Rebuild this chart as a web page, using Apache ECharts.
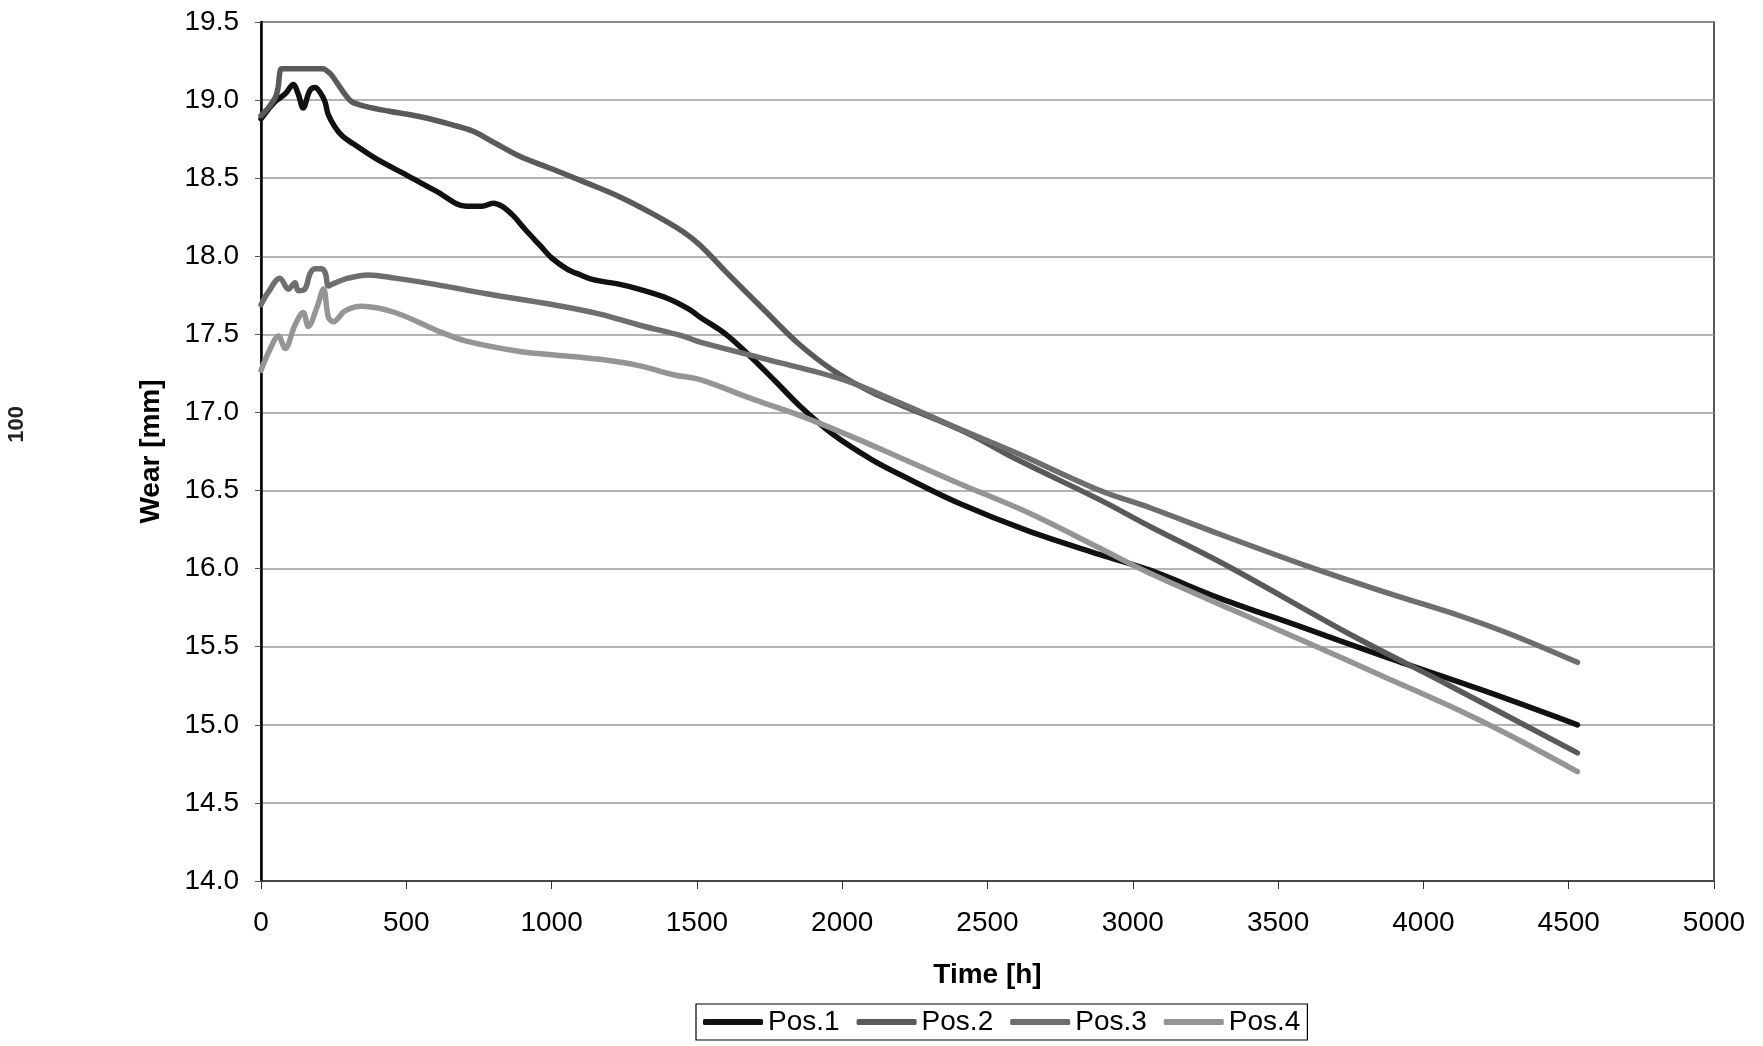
<!DOCTYPE html>
<html>
<head>
<meta charset="utf-8">
<script src="https://cdn.jsdelivr.net/npm/echarts@6/dist/echarts.min.js"></script>
<style>
html,body{margin:0;padding:0;background:#fff;}
#chart{width:1763px;height:1046px;}
</style>
</head>
<body>
<div id="chart"></div>
<script>
// ---- data ----
const seriesNames = ['Pos.1', 'Pos.2', 'Pos.3', 'Pos.4'];

const pos1Time = [0, 25, 48, 70, 88, 111, 128, 145, 168, 186, 203, 220, 231, 254, 280, 318, 400, 501, 600, 708, 760, 799, 830, 868, 910, 960, 1000, 1052, 1100, 1143, 1235, 1300, 1400, 1474, 1511, 1600, 1683, 1770, 1855, 1968, 2100, 2212, 2400, 2642, 2887, 3059, 3300, 3575, 3862, 4206, 4530];
const pos1Wear = [18.88, 18.94, 18.99, 19.02, 19.05, 19.10, 19.04, 18.95, 19.06, 19.08, 19.05, 18.99, 18.91, 18.83, 18.77, 18.72, 18.62, 18.52, 18.42, 18.32, 18.32, 18.34, 18.32, 18.26, 18.17, 18.07, 17.99, 17.92, 17.88, 17.85, 17.82, 17.79, 17.73, 17.66, 17.61, 17.50, 17.36, 17.20, 17.04, 16.86, 16.70, 16.59, 16.42, 16.24, 16.09, 15.99, 15.81, 15.63, 15.44, 15.22, 15.00];

const pos2Time = [0, 25, 50, 59, 65, 71, 140, 213, 225, 243, 280, 312, 360, 437, 557, 661, 730, 800, 890, 1000, 1120, 1235, 1350, 1450, 1511, 1600, 1740, 1850, 1968, 2100, 2199, 2428, 2600, 2887, 3059, 3323, 3747, 4091, 4530];
const pos2Wear = [18.90, 18.95, 19.02, 19.08, 19.18, 19.20, 19.20, 19.20, 19.19, 19.16, 19.06, 18.99, 18.96, 18.93, 18.89, 18.84, 18.80, 18.73, 18.64, 18.56, 18.47, 18.38, 18.27, 18.16, 18.07, 17.90, 17.64, 17.44, 17.27, 17.13, 17.05, 16.87, 16.70, 16.44, 16.27, 16.02, 15.58, 15.25, 14.82];

const pos3Time = [0, 25, 65, 94, 117, 128, 151, 169, 186, 209, 222, 232, 255, 300, 369, 461, 599, 776, 1006, 1167, 1300, 1450, 1511, 1740, 2003, 2200, 2396, 2600, 2887, 3059, 3300, 3610, 3900, 4122, 4300, 4530];
const pos3Wear = [17.69, 17.77, 17.86, 17.79, 17.83, 17.78, 17.79, 17.89, 17.92, 17.92, 17.89, 17.81, 17.83, 17.86, 17.88, 17.86, 17.82, 17.76, 17.69, 17.63, 17.56, 17.49, 17.45, 17.34, 17.21, 17.06, 16.90, 16.74, 16.50, 16.39, 16.22, 16.01, 15.83, 15.70, 15.58, 15.40];

const pos4Time = [0, 30, 60, 83, 117, 145, 163, 192, 215, 232, 249, 289, 346, 461, 599, 700, 890, 1000, 1167, 1300, 1423, 1511, 1700, 1855, 2027, 2200, 2396, 2650, 2887, 3059, 3350, 3633, 3862, 4091, 4300, 4530];
const pos4Wear = [17.27, 17.40, 17.49, 17.41, 17.56, 17.64, 17.55, 17.67, 17.79, 17.61, 17.58, 17.65, 17.68, 17.64, 17.53, 17.46, 17.39, 17.37, 17.34, 17.30, 17.24, 17.21, 17.08, 16.98, 16.85, 16.71, 16.55, 16.35, 16.13, 15.97, 15.73, 15.50, 15.31, 15.12, 14.93, 14.70];

const seriesColors = ['#111111', '#5a5a5a', '#6e6e6e', '#959595'];
const xTicks = [0, 500, 1000, 1500, 2000, 2500, 3000, 3500, 4000, 4500, 5000];
const yTicks = [14.0, 14.5, 15.0, 15.5, 16.0, 16.5, 17.0, 17.5, 18.0, 18.5, 19.0, 19.5];

function pairs(t, w) { return t.map((v, i) => [v, w[i]]); }
const allTimes = [pos1Time, pos2Time, pos3Time, pos4Time];
const allWear = [pos1Wear, pos2Wear, pos3Wear, pos4Wear];

const FONT = '"Liberation Sans", Arial, sans-serif';
const chart = echarts.init(document.getElementById('chart'), null, { renderer: 'canvas' });

chart.setOption({
  backgroundColor: '#ffffff',
  animation: false,
  textStyle: { fontFamily: FONT },
  grid: {
    left: 261, right: 49, top: 22, bottom: 165,
    show: true, borderColor: '#222', borderWidth: 1.5, backgroundColor: 'transparent'
  },
  legend: {
    data: seriesNames,
    left: 696, top: 1004,
    orient: 'horizontal',
    padding: [4, 7, 4, 7],
    itemGap: 17,
    itemWidth: 60,
    itemHeight: 6,
    icon: 'roundRect',
    borderColor: '#000', borderWidth: 1.2,
    textStyle: { fontFamily: FONT, fontSize: 28, color: '#000' }
  },
  xAxis: {
    type: 'value',
    min: xTicks[0], max: xTicks[xTicks.length - 1], interval: 500,
    name: 'Time [h]',
    nameLocation: 'middle',
    nameGap: 80,
    nameTextStyle: { fontFamily: FONT, fontSize: 28, fontWeight: 'bold', color: '#000' },
    axisLine: { lineStyle: { color: '#333', width: 1.5 } },
    axisTick: { show: true, length: 8, lineStyle: { color: '#333' } },
    axisLabel: { fontFamily: FONT, fontSize: 28, color: '#000', margin: 28,
      formatter: v => String(v) },
    splitLine: { show: false }
  },
  yAxis: {
    type: 'value',
    min: yTicks[0], max: yTicks[yTicks.length - 1], interval: 0.5,
    name: 'Wear [mm]',
    nameLocation: 'middle',
    nameGap: 96,
    nameRotate: 90,
    nameTextStyle: { fontFamily: FONT, fontSize: 28, fontWeight: 'bold', color: '#000' },
    axisLine: { show: true, lineStyle: { color: '#000', width: 2.5 } },
    axisTick: { show: true, length: 6, lineStyle: { color: '#555' } },
    axisLabel: { fontFamily: FONT, fontSize: 28, color: '#000', margin: 22,
      formatter: v => v.toFixed(1) },
    splitLine: { show: true, lineStyle: { color: '#9a9a9a', width: 1.5 } }
  },
  graphic: [{
    type: 'text',
    left: 6, top: 406,
    rotation: Math.PI / 2,
    style: { text: '100', font: 'bold 22px "Liberation Sans Narrow", "Liberation Sans", Arial', fill: '#222' }
  }],
  series: seriesNames.map((name, i) => ({
    name: name,
    type: 'line',
    data: pairs(allTimes[i], allWear[i]),
    showSymbol: false,
    symbol: 'none',
    smooth: 0.35,
    lineStyle: { color: seriesColors[i], width: 5.5, cap: 'round', join: 'round' },
    itemStyle: { color: seriesColors[i] },
    emphasis: { disabled: true }
  }))
});
</script>
</body>
</html>
